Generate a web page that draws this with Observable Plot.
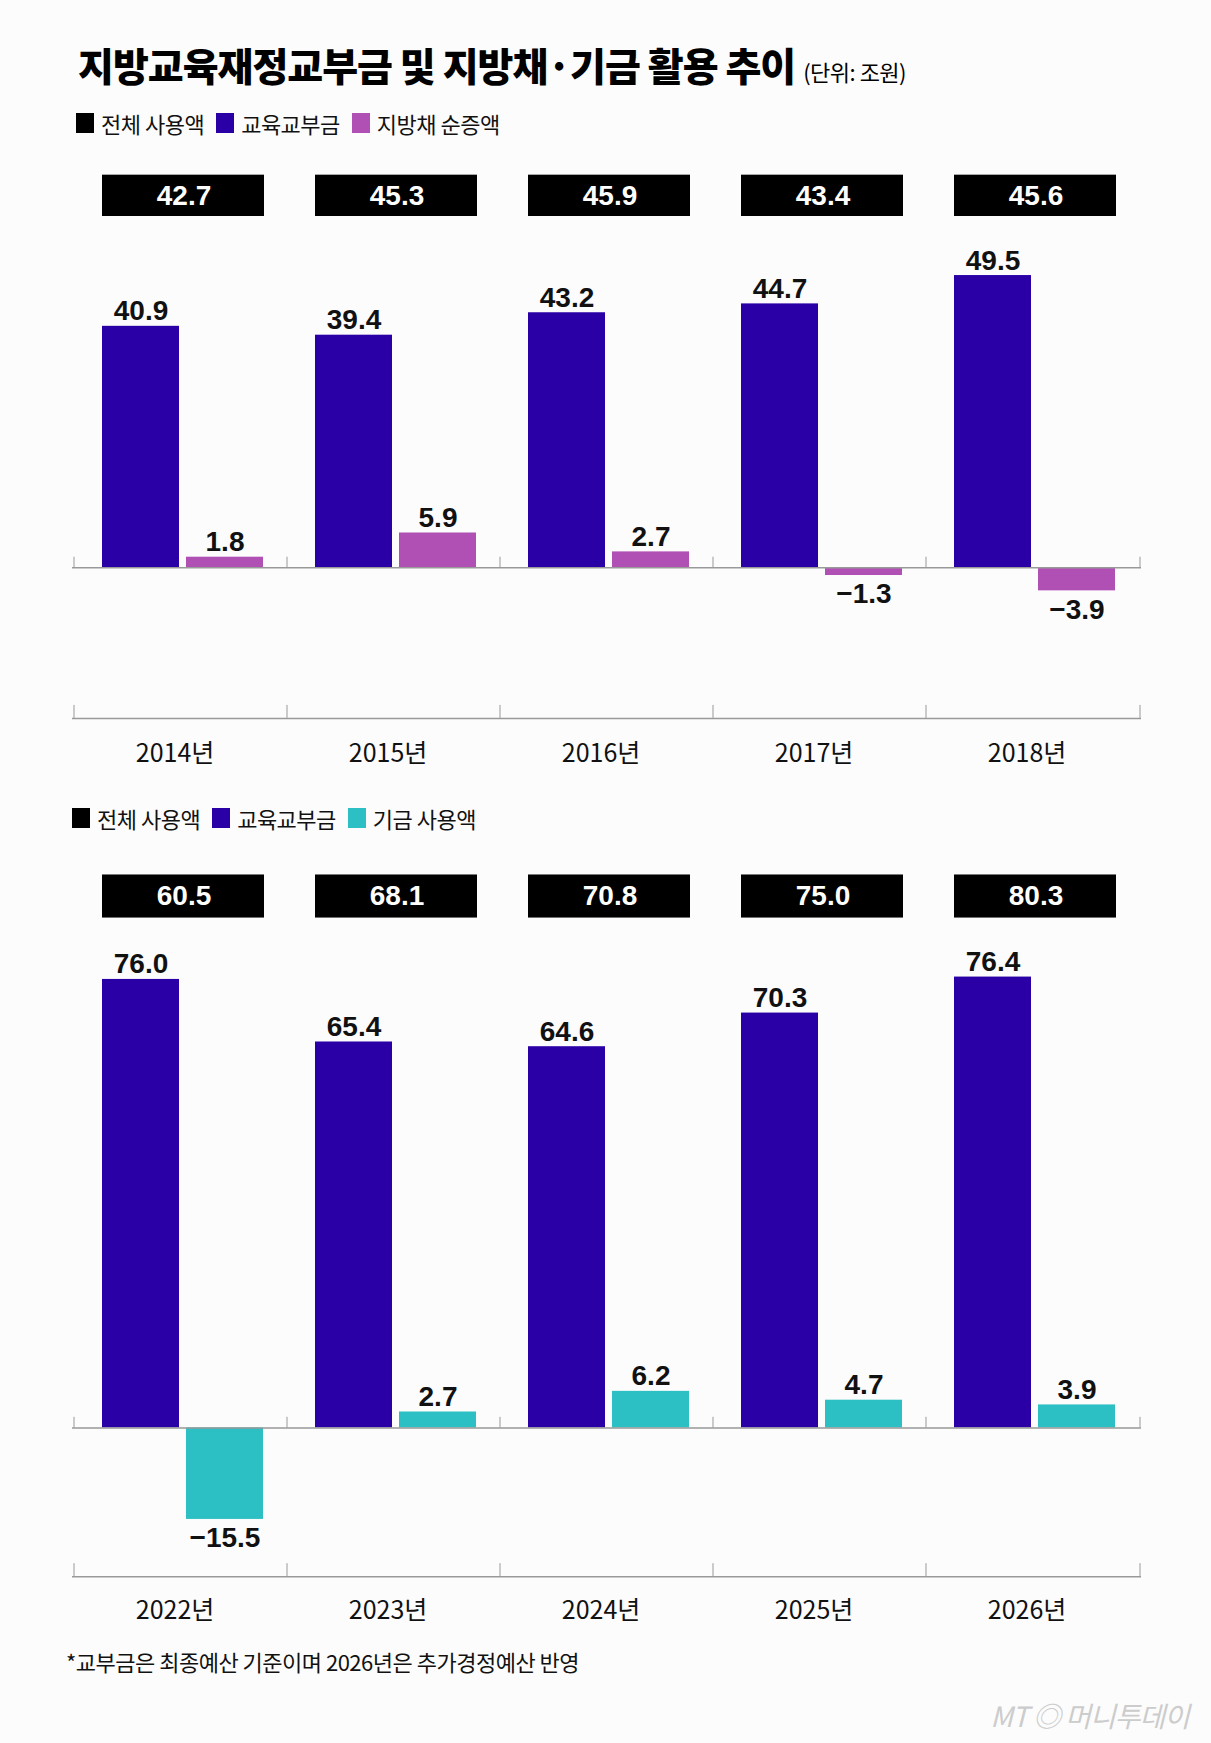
<!DOCTYPE html>
<html><head><meta charset="utf-8">
<script src="https://cdn.jsdelivr.net/npm/d3@7"></script>
<script src="https://cdn.jsdelivr.net/npm/@observablehq/plot@0.6"></script>
<style>
body{margin:0;background:#fcfcfc;font-family:"Noto Sans CJK KR","Noto Sans",sans-serif;}
#wrap{position:relative;width:1211px;height:1743px;overflow:hidden;background:#fcfcfc}
.abs{position:absolute}
.title{left:78px;top:36px;font-size:39px;font-weight:900;letter-spacing:-1px;color:#000;white-space:nowrap}
.title small{font-size:22px;font-weight:400;letter-spacing:-0.5px}
.leg{font-size:22px;letter-spacing:-0.5px;display:flex;align-items:center;color:#111;white-space:nowrap}
.leg span.sw{display:inline-block;width:18px;height:20px;margin-right:7px}
.leg span.t{margin-right:12px}
.foot{left:66px;top:1645px;font-size:22px;letter-spacing:-0.5px;color:#111;white-space:nowrap}
.wm{right:22px;top:1695px;font-size:28px;color:#ccc;font-style:italic;letter-spacing:-1px;white-space:nowrap}
</style></head><body>
<div id="wrap">
<div class="abs title">지방교육재정교부금 및 지방채·기금 활용 추이 <small>(단위: 조원)</small></div>
<div class="abs leg" style="left:76px;top:107px"><span class="sw" style="background:#000"></span><span class="t">전체 사용액</span><span class="sw" style="background:#2a00a6"></span><span class="t">교육교부금</span><span class="sw" style="background:#b050b4"></span><span class="t">지방채 순증액</span></div>
<div class="abs leg" style="left:72px;top:802px"><span class="sw" style="background:#000"></span><span class="t">전체 사용액</span><span class="sw" style="background:#2a00a6"></span><span class="t">교육교부금</span><span class="sw" style="background:#2cbfc3"></span><span class="t">기금 사용액</span></div>
<div id="p1" class="abs" style="left:0;top:154px"></div>
<div id="p2" class="abs" style="left:0;top:855px"></div>
<div class="abs foot">*교부금은 최종예산 기준이며 2026년은 추가경정예산 반영</div>
<div class="abs wm">MT ◎ 머니투데이</div>
</div>
<script>
const cats1 = ["2014년","2015년","2016년","2017년","2018년"];
const total1 = [42.7,45.3,45.9,43.4,45.6];
const grant1 = [40.9,39.4,43.2,44.7,49.5];
const bond1 = [1.8,5.9,2.7,-1.3,-3.9];
const cats2 = ["2022년","2023년","2024년","2025년","2026년"];
const total2 = [60.5,68.1,70.8,75.0,80.3];
const grant2 = [76.0,65.4,64.6,70.3,76.4];
const fund2 = [-15.5,2.7,6.2,4.7,3.9];

const fmt = d3.format(".1f");
const numFont = "'Liberation Sans Narrow','Liberation Sans',sans-serif";
const PPU = 5.9;

function panel(cats, total, grant, other, otherColor, ydom, boxRange, axisY, labelY) {
  const rows = cats.map((c,i)=>({c, t: total[i], g: grant[i], o: other[i]}));
  const band = 214;
  const h = Math.round((ydom[1]-ydom[0])*PPU);
  return Plot.plot({
    width: 1211, height: h,
    marginLeft: 72, marginRight: 70, marginTop: 0, marginBottom: 0,
    x: {type:"band", domain: cats, padding: 0, axis: null},
    y: {domain: ydom, axis: null},
    style: {background: "transparent", overflow: "visible"},
    marks: [
      Plot.rectY(rows, {x:"c", y1: boxRange[0], y2: boxRange[1], fill:"#000", insetLeft: 28, insetRight: 23}),
      Plot.text(rows, {x:"c", y:(boxRange[0]+boxRange[1])/2, text: d=>fmt(d.t), fill:"#fff", fontSize: 28, fontWeight:"bold", fontFamily: numFont, dx: 3}),
      Plot.barY(rows, {x:"c", y:"g", fill:"#2a00a6", insetLeft: 28, insetRight: 108}),
      Plot.barY(rows, {x:"c", y:"o", fill: otherColor, insetLeft: 112, insetRight: 24}),
      Plot.ruleY([0], {stroke:"#999", strokeWidth: 1.5}),
      Plot.ruleX(cats, {x: d=>d, dx: -band/2, y1: 0, y2: 1.8, stroke:"#999"}),
      Plot.ruleX([cats[cats.length-1]], {x: d=>d, dx: band/2, y1: 0, y2: 1.8, stroke:"#999"}),
      Plot.ruleY([axisY], {stroke:"#999", strokeWidth: 1.5}),
      Plot.ruleX(cats, {x: d=>d, dx: -band/2, y1: axisY, y2: axisY+2.2, stroke:"#999"}),
      Plot.ruleX([cats[cats.length-1]], {x: d=>d, dx: band/2, y1: axisY, y2: axisY+2.2, stroke:"#999"}),
      Plot.text(rows, {x:"c", y:"g", text: d=>fmt(d.g), dx: -40, dy: -6, lineAnchor:"bottom", fontSize: 28, fontWeight:"bold", fontFamily: numFont, fill:"#111"}),
      Plot.text(rows, {x:"c", y: d=>Math.max(0,d.o), text: d=>fmt(d.o), dx: 44, dy: -6, lineAnchor:"bottom", fontSize: 28, fontWeight:"bold", fontFamily: numFont, fill:"#111", filter: d=>d.o>=0}),
      Plot.text(rows, {x:"c", y: "o", text: d=>fmt(d.o), dx: 44, dy: 8, lineAnchor:"top", fontSize: 28, fontWeight:"bold", fontFamily: numFont, fill:"#111", filter: d=>d.o<0}),
      Plot.text(rows, {x:"c", y: labelY, text:"c", dx: -6, fontSize: 25, fontFamily: "'Noto Sans CJK KR',sans-serif", fill:"#111", letterSpacing: -1})
    ]
  });
}

document.getElementById("p1").append(panel(cats1,total1,grant1,bond1,"#b050b4",[-35,70],[59.5,66.5],-25.5,-31.5));
document.getElementById("p2").append(panel(cats2,total2,grant2,fund2,"#2cbfc3",[-35,97],[86.4,93.7],-25.2,-31));
</script>
</body></html>
